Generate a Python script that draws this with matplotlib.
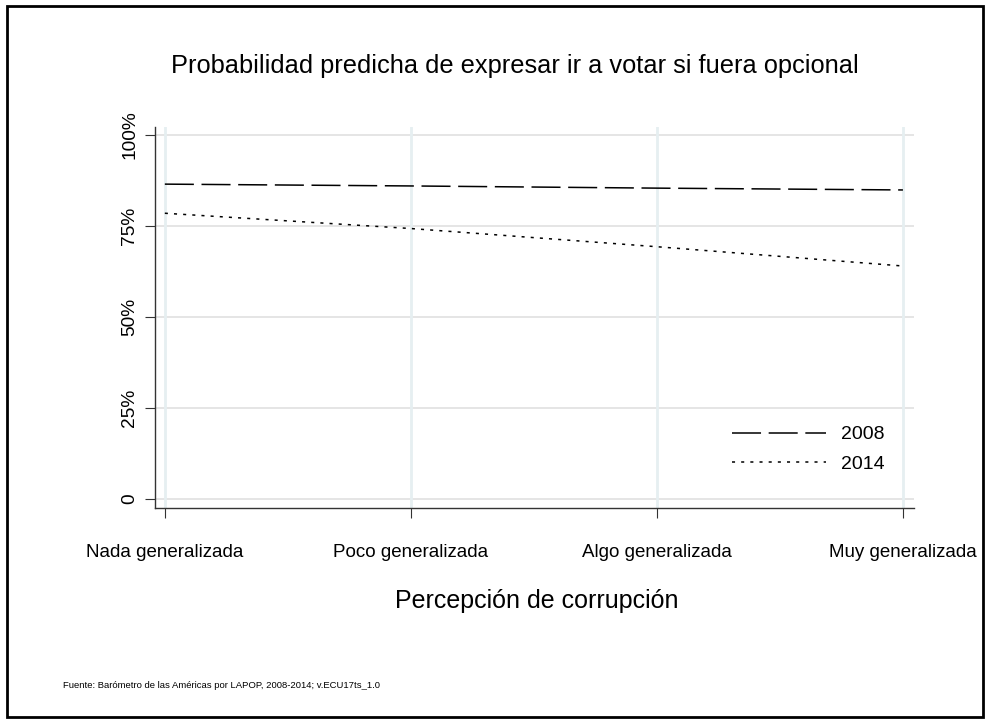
import matplotlib.pyplot as plt
from matplotlib.patches import Rectangle

plt.rcParams['font.family'] = ['Liberation Sans', 'DejaVu Sans']

# Data
categories = ['Nada generalizada', 'Poco generalizada', 'Algo generalizada', 'Muy generalizada']
y_2008 = [86.5, 86.0, 85.4, 84.9]
y_2014 = [78.5, 74.3, 69.3, 64.0]
yticks = [0, 25, 50, 75, 100]
ytick_labels = ['0', '25%', '50%', '75%', '100%']

fig = plt.figure(figsize=(9.9, 7.24), dpi=100)
ax = fig.add_axes([155 / 990, 1 - 508 / 724, (914 - 155) / 990, (508 - 127) / 724])

x = list(range(len(categories)))
ax.plot(x, y_2008, color='black', lw=1.1, dashes=(19, 5), label='2008')
ax.plot(x, y_2014, color='black', lw=1.1, dashes=(2, 4), label='2014')

ax.set_xlim(-0.04, 3.045)
ax.set_ylim(-2.5, 102.2)
ax.set_xticks(x)
ax.set_xticklabels(categories, fontsize=13.5)
ax.set_yticks(yticks)
ax.set_yticklabels(ytick_labels, fontsize=13.8, rotation=90, va='center')
ax.tick_params(axis='x', length=7, pad=19, color='#333333')
ax.tick_params(axis='y', length=7, pad=5, color='#333333')

for yv in yticks:
    ax.axhline(yv, color='#e0e0e0', lw=1.2, zorder=0)
for xv in x:
    ax.axvline(xv, color='#e6eff1', lw=2, zorder=0)

for s in ['top', 'right']:
    ax.spines[s].set_visible(False)
for s in ['left', 'bottom']:
    ax.spines[s].set_color('#333333')
    ax.spines[s].set_linewidth(1.0)

fig.text(537 / 990, 1 - 601 / 724, 'Percepción de corrupción', fontsize=18, ha='center', va='center')
fig.text(515 / 990, 1 - 66 / 724, 'Probabilidad predicha de expresar ir a votar si fuera opcional',
         fontsize=18.3, ha='center', va='center')
fig.text(63 / 990, 1 - 685 / 724,
         'Fuente: Barómetro de las Américas por LAPOP, 2008-2014; v.ECU17ts_1.0',
         fontsize=6.8, ha='left', va='center')

ax.legend(loc='upper left', bbox_to_anchor=((724 - 155) / (914 - 155), (508 - 418) / (508 - 127)),
          frameon=False, fontsize=14, handlelength=4.85, handletextpad=0.77, labelspacing=0.6,
          borderaxespad=0)

fig.patches.append(Rectangle((7 / 990, 7 / 724), 976 / 990, 711 / 724, transform=fig.transFigure,
                             fill=False, edgecolor='black', lw=2))

plt.savefig('out.png', dpi=100)
